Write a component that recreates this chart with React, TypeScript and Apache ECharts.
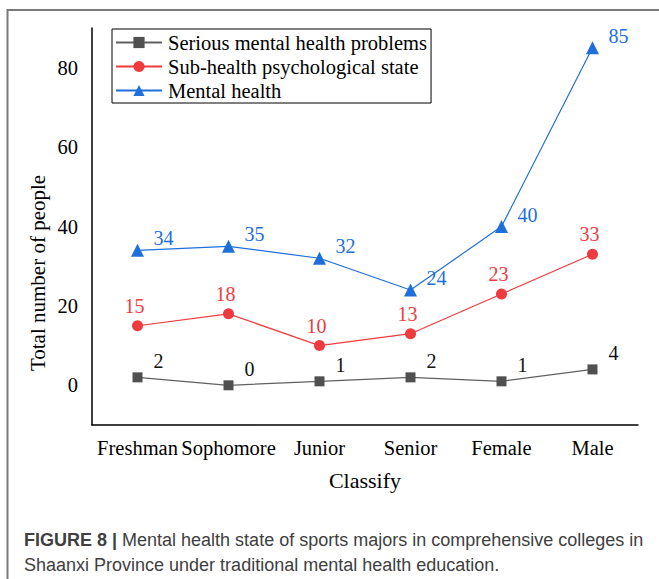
import React, { useEffect, useRef } from "react";
import * as echarts from "echarts";

const categories = ["Freshman", "Sophomore", "Junior", "Senior", "Female", "Male"];
const seriousValues = [2, 0, 1, 2, 1, 4];
const subHealthValues = [15, 18, 10, 13, 23, 33];
const mentalHealthValues = [34, 35, 32, 24, 40, 85];
const seriesNames = ["Serious mental health problems", "Sub-health psychological state", "Mental health"];
const yTickLabels = [0, 20, 40, 60, 80];

const SERIF = "'Liberation Serif', 'Times New Roman', serif";
const SANS = "'Liberation Sans', Arial, sans-serif";

export default function App() {
  const ref = useRef<HTMLDivElement>(null);
  useEffect(() => {
    if (!ref.current) return;
    const chart = echarts.init(ref.current, undefined, { renderer: "svg" });
    const labelStyle = (color: string, offset: number[]) => ({
      show: true,
      position: "inside",
      offset,
      color,
      fontFamily: SERIF,
      fontSize: 20,
    });
    chart.setOption({
      animation: false,
      backgroundColor: "#ffffff",
      grid: { left: 92, right: 21, top: 28, bottom: 154, containLabel: false },
      legend: {
        orient: "vertical",
        left: 112,
        top: 29,
        data: seriesNames,
        borderColor: "#000",
        borderWidth: 1,
        padding: [3, 4, 2, 3],
        itemGap: 3,
        itemWidth: 46,
        itemHeight: 14,
        textStyle: { fontFamily: SERIF, fontSize: 20.5, color: "#000", padding: [0, 0, 0, 1] },
      },
      xAxis: {
        type: "category",
        data: categories,
        name: "Classify",
        nameLocation: "middle",
        nameGap: 44,
        nameTextStyle: { fontFamily: SERIF, fontSize: 22, color: "#000" },
        axisLine: { onZero: false, lineStyle: { color: "#000", width: 1.5 } },
        axisTick: { show: false },
        axisLabel: { fontFamily: SERIF, fontSize: 20.5, color: "#000", margin: 12, interval: 0 },
        splitLine: { show: false },
      },
      yAxis: {
        type: "value",
        min: -10,
        max: 90,
        interval: 10,
        axisLine: { show: true, lineStyle: { color: "#000", width: 1.5 } },
        axisTick: { show: false },
        splitLine: { show: false },
        axisLabel: {
          fontFamily: SERIF,
          fontSize: 20.5,
          color: "#000",
          margin: 14,
          formatter: (v: number) => (yTickLabels.indexOf(v) >= 0 ? String(v) : ""),
        },
      },
      series: [
        {
          name: seriesNames[0],
          type: "line",
          data: seriousValues,
          symbol: "rect",
          symbolSize: 10,
          itemStyle: { color: "#505050" },
          lineStyle: { color: "#606060", width: 1.2 },
          label: labelStyle("#111", [21, -16]),
        },
        {
          name: seriesNames[1],
          type: "line",
          data: subHealthValues,
          symbol: "circle",
          symbolSize: 11,
          itemStyle: { color: "#ef3b3f" },
          lineStyle: { color: "#ef3b3f", width: 1.2 },
          label: labelStyle("#ef3b3f", [-3, -20]),
        },
        {
          name: seriesNames[2],
          type: "line",
          data: mentalHealthValues,
          symbol: "triangle",
          symbolSize: 13,
          itemStyle: { color: "#1e6fd9" },
          lineStyle: { color: "#1e6fd9", width: 1.2 },
          label: labelStyle("#1e6fd9", [26, -12]),
        },
      ],
      graphic: [
        {
          type: "rect",
          shape: { x: 7.5, y: 10, width: 720, height: 640 },
          style: { fill: "none", stroke: "#7a7a7a", lineWidth: 2 },
          silent: true,
        },
        {
          type: "text",
          x: 38,
          y: 273,
          rotation: Math.PI / 2,
          style: {
            text: "Total number of people",
            fontFamily: SERIF,
            fontSize: 21,
            fill: "#000",
            textAlign: "center",
            textVerticalAlign: "middle",
          },
        },
        {
          type: "text",
          left: 24,
          top: 527,
          style: {
            text: "{b|FIGURE 8 |} Mental health state of sports majors in comprehensive colleges in\nShaanxi Province under traditional mental health education.",
            fontFamily: SANS,
            fontSize: 18,
            lineHeight: 25,
            fill: "#404040",
            rich: {
              b: { fontFamily: SANS, fontSize: 18, fontWeight: "bold", fill: "#404040", lineHeight: 25 },
            },
          },
        },
      ],
    });
    return () => chart.dispose();
  }, []);
  return (
    <div
      ref={ref}
      style={{ position: "absolute", left: 0, top: 0, width: 659, height: 579 }}
    />
  );
}
